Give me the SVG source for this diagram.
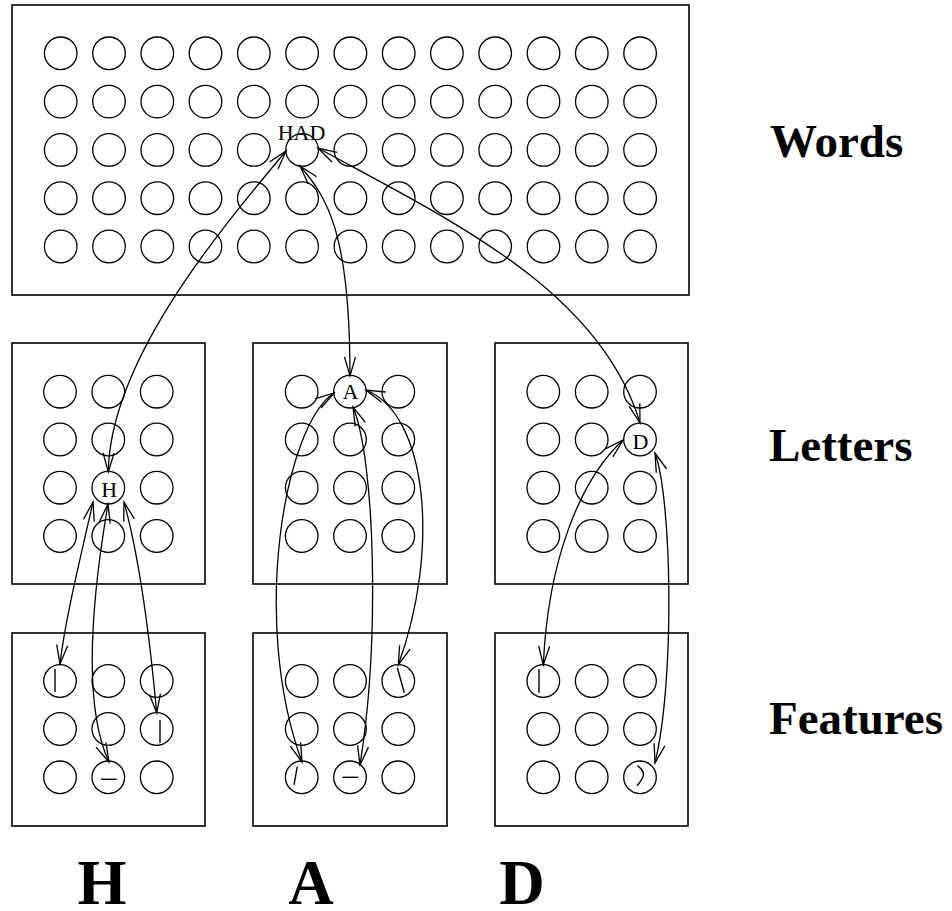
<svg xmlns="http://www.w3.org/2000/svg" width="952" height="911" viewBox="0 0 952 911">
  <style>
    .box { fill: none; stroke: #000; stroke-width: 1.6; }
    .unit { fill: none; stroke: #000; stroke-width: 1.3; }
    .mark { fill: none; stroke: #000; stroke-width: 1.4; }
    .link { fill: none; stroke: #000; stroke-width: 1.3; marker-start: url(#head); marker-end: url(#head); }
    .tag { font-family: "Liberation Serif", "Times New Roman", serif; font-size: 22px; fill: #000; text-anchor: middle; }
    .layer { font-family: "Liberation Serif", "Times New Roman", serif; font-weight: bold; font-size: 47px; fill: #000; }
    .big { font-family: "Liberation Serif", "Times New Roman", serif; font-weight: bold; font-size: 63px; fill: #000; text-anchor: middle; }
  </style>
  <defs>
    <marker id="head" markerUnits="userSpaceOnUse" markerWidth="24" markerHeight="14" viewBox="-1 -7 22 14" refX="19" refY="0" orient="auto-start-reverse">
      <path d="M0,-5.5 L19,0 L0,5.5" fill="none" stroke="#000" stroke-width="1.3"/>
    </marker>
    <circle id="u" r="16.3" class="unit"/>
  </defs>

  <rect width="952" height="911" fill="#fff"/>

  <!-- word layer: 13 x 5 units -->
  <g id="words">
    <rect class="box" x="12" y="5" width="677" height="290"/>
    <g id="word-units">
      <use href="#u" x="60.7" y="53.3"/><use href="#u" x="109" y="53.3"/><use href="#u" x="157.3" y="53.3"/><use href="#u" x="205.5" y="53.3"/><use href="#u" x="253.8" y="53.3"/><use href="#u" x="302.1" y="53.3"/><use href="#u" x="350.4" y="53.3"/><use href="#u" x="398.7" y="53.3"/><use href="#u" x="446.9" y="53.3"/><use href="#u" x="495.2" y="53.3"/><use href="#u" x="543.5" y="53.3"/><use href="#u" x="591.8" y="53.3"/><use href="#u" x="640.1" y="53.3"/>
      <use href="#u" x="60.7" y="101.6"/><use href="#u" x="109" y="101.6"/><use href="#u" x="157.3" y="101.6"/><use href="#u" x="205.5" y="101.6"/><use href="#u" x="253.8" y="101.6"/><use href="#u" x="302.1" y="101.6"/><use href="#u" x="350.4" y="101.6"/><use href="#u" x="398.7" y="101.6"/><use href="#u" x="446.9" y="101.6"/><use href="#u" x="495.2" y="101.6"/><use href="#u" x="543.5" y="101.6"/><use href="#u" x="591.8" y="101.6"/><use href="#u" x="640.1" y="101.6"/>
      <use href="#u" x="60.7" y="149.9"/><use href="#u" x="109" y="149.9"/><use href="#u" x="157.3" y="149.9"/><use href="#u" x="205.5" y="149.9"/><use href="#u" x="253.8" y="149.9"/><use href="#u" x="350.4" y="149.9"/><use href="#u" x="398.7" y="149.9"/><use href="#u" x="446.9" y="149.9"/><use href="#u" x="495.2" y="149.9"/><use href="#u" x="543.5" y="149.9"/><use href="#u" x="591.8" y="149.9"/><use href="#u" x="640.1" y="149.9"/>
      <use href="#u" x="60.7" y="198.2"/><use href="#u" x="109" y="198.2"/><use href="#u" x="157.3" y="198.2"/><use href="#u" x="205.5" y="198.2"/><use href="#u" x="253.8" y="198.2"/><use href="#u" x="302.1" y="198.2"/><use href="#u" x="350.4" y="198.2"/><use href="#u" x="398.7" y="198.2"/><use href="#u" x="446.9" y="198.2"/><use href="#u" x="495.2" y="198.2"/><use href="#u" x="543.5" y="198.2"/><use href="#u" x="591.8" y="198.2"/><use href="#u" x="640.1" y="198.2"/>
      <use href="#u" x="60.7" y="246.5"/><use href="#u" x="109" y="246.5"/><use href="#u" x="157.3" y="246.5"/><use href="#u" x="205.5" y="246.5"/><use href="#u" x="253.8" y="246.5"/><use href="#u" x="302.1" y="246.5"/><use href="#u" x="350.4" y="246.5"/><use href="#u" x="398.7" y="246.5"/><use href="#u" x="446.9" y="246.5"/><use href="#u" x="495.2" y="246.5"/><use href="#u" x="543.5" y="246.5"/><use href="#u" x="591.8" y="246.5"/><use href="#u" x="640.1" y="246.5"/>
    </g>
    <g id="word-had">
      <use href="#u" x="302.1" y="149.9"/>
      <text class="tag" x="301.5" y="139.5">HAD</text>
    </g>
  </g>

  <!-- letter layer -->
  <g id="letters-h">
    <rect class="box" x="12" y="343" width="193" height="241"/>
    <use href="#u" x="60" y="391.7"/><use href="#u" x="108.3" y="391.7"/><use href="#u" x="156.7" y="391.7"/>
    <use href="#u" x="60" y="439.5"/><use href="#u" x="108.3" y="439.5"/><use href="#u" x="156.7" y="439.5"/>
    <use href="#u" x="60" y="487.7"/><use href="#u" x="156.7" y="487.7"/>
    <use href="#u" x="60" y="536"/><use href="#u" x="108.3" y="536"/><use href="#u" x="156.7" y="536"/>
  </g>
  <g id="letter-h">
    <use href="#u" x="108.3" y="487.7"/>
    <text class="tag" x="109.3" y="496.5">H</text>
  </g>

  <g id="letters-a">
    <rect class="box" x="253" y="343" width="194" height="241"/>
    <use href="#u" x="301.7" y="391.7"/><use href="#u" x="398.3" y="391.7"/>
    <use href="#u" x="301.7" y="439.5"/><use href="#u" x="350" y="439.5"/><use href="#u" x="398.3" y="439.5"/>
    <use href="#u" x="301.7" y="487.7"/><use href="#u" x="350" y="487.7"/><use href="#u" x="398.3" y="487.7"/>
    <use href="#u" x="301.7" y="536"/><use href="#u" x="350" y="536"/><use href="#u" x="398.3" y="536"/>
  </g>
  <g id="letter-a">
    <use href="#u" x="350" y="391.7"/>
    <text class="tag" x="350.5" y="398.5">A</text>
  </g>

  <g id="letters-d">
    <rect class="box" x="495" y="343" width="193" height="241"/>
    <use href="#u" x="543.3" y="391.7"/><use href="#u" x="591.7" y="391.7"/><use href="#u" x="640" y="391.7"/>
    <use href="#u" x="543.3" y="439.5"/><use href="#u" x="591.7" y="439.5"/>
    <use href="#u" x="543.3" y="487.7"/><use href="#u" x="591.7" y="487.7"/><use href="#u" x="640" y="487.7"/>
    <use href="#u" x="543.3" y="536"/><use href="#u" x="591.7" y="536"/><use href="#u" x="640" y="536"/>
  </g>
  <g id="letter-d">
    <use href="#u" x="640" y="439.5"/>
    <text class="tag" x="640.5" y="449">D</text>
  </g>

  <!-- feature layer -->
  <g id="features-h">
    <rect class="box" x="12" y="633" width="193" height="193"/>
    <use href="#u" x="108.3" y="681"/><use href="#u" x="156.7" y="681"/>
    <use href="#u" x="60" y="729"/><use href="#u" x="108.3" y="729"/>
    <use href="#u" x="60" y="777.3"/><use href="#u" x="156.7" y="777.3"/>
  </g>
  <g id="feature-h-left">
    <use href="#u" x="60" y="681"/>
    <line class="mark" x1="55" y1="669" x2="55" y2="692"/>
  </g>
  <g id="feature-h-right">
    <use href="#u" x="156.7" y="729"/>
    <line class="mark" x1="160" y1="720" x2="160" y2="743"/>
  </g>
  <g id="feature-h-bar">
    <use href="#u" x="108.3" y="777.3"/>
    <line class="mark" x1="101" y1="779.3" x2="116.7" y2="779.3"/>
  </g>

  <g id="features-a">
    <rect class="box" x="253" y="633" width="194" height="193"/>
    <use href="#u" x="301.7" y="681"/><use href="#u" x="350" y="681"/>
    <use href="#u" x="301.7" y="729"/><use href="#u" x="350" y="729"/><use href="#u" x="398.3" y="729"/>
    <use href="#u" x="398.3" y="777.3"/>
  </g>
  <g id="feature-a-left">
    <use href="#u" x="301.7" y="777.3"/>
    <line class="mark" x1="297.3" y1="766.5" x2="294" y2="785"/>
  </g>
  <g id="feature-a-bar">
    <use href="#u" x="350" y="777.3"/>
    <line class="mark" x1="342.3" y1="777.3" x2="358.3" y2="777.3"/>
  </g>
  <g id="feature-a-right">
    <use href="#u" x="398.3" y="681"/>
    <line class="mark" x1="397.3" y1="667.7" x2="404.3" y2="692.7"/>
  </g>

  <g id="features-d">
    <rect class="box" x="495" y="633" width="193" height="193"/>
    <use href="#u" x="591.7" y="681"/><use href="#u" x="640" y="681"/>
    <use href="#u" x="543.3" y="729"/><use href="#u" x="591.7" y="729"/><use href="#u" x="640" y="729"/>
    <use href="#u" x="543.3" y="777.3"/><use href="#u" x="591.7" y="777.3"/>
  </g>
  <g id="feature-d-left">
    <use href="#u" x="543.3" y="681"/>
    <line class="mark" x1="539" y1="669.3" x2="539" y2="692.7"/>
  </g>
  <g id="feature-d-curve">
    <use href="#u" x="640" y="777.3"/>
    <path class="mark" d="M637.3,765.7 Q643.5,770 643.5,774.5 Q643,779 637,785.7"/>
  </g>

  <!-- two-way links between layers -->
  <g id="connectors">
    <path class="link" d="M286,151 C220,230 110,360 108.3,472"/>
    <path class="link" d="M300,166 C328,198 350,235 350,376"/>
    <path class="link" d="M318,148 C450,220 600,290 640,423"/>
    <path class="link" d="M93,502 C80,560 65,620 60,664"/>
    <path class="link" d="M108,504 C95,580 80,700 109,762"/>
    <path class="link" d="M124,502 C140,560 150,640 156.7,713"/>
    <path class="link" d="M334,393 C285,425 250,620 302,762"/>
    <path class="link" d="M353,407 C375,460 380,640 360,765"/>
    <path class="link" d="M366,390 C428,415 440,550 398.3,665"/>
    <path class="link" d="M623,440 C580,480 548,560 543.3,665"/>
    <path class="link" d="M655,453 C672,500 675,680 655,763"/>
  </g>

  <!-- layer names -->
  <text class="layer" x="770" y="157">Words</text>
  <text class="layer" x="769" y="461">Letters</text>
  <text class="layer" x="769" y="734">Features</text>

  <text class="big" x="102" y="904">H</text>
  <text class="big" x="311" y="904">A</text>
  <text class="big" x="522" y="904">D</text>
</svg>
